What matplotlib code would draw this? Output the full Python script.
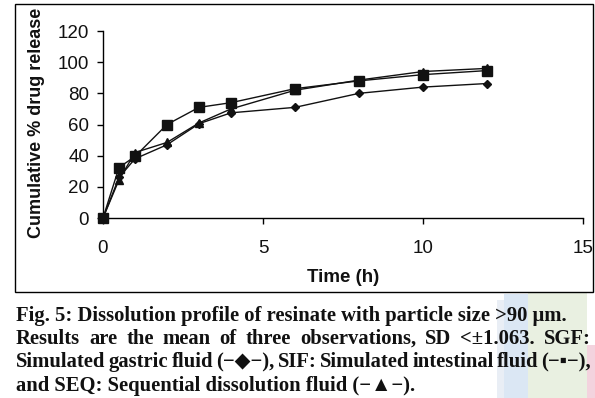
import matplotlib
matplotlib.use("Agg")
import matplotlib.pyplot as plt
from matplotlib.patches import Rectangle

# ---- data ----
time_h = [0, 0.5, 1, 2, 3, 4, 6, 8, 10, 12]
sgf = [0, 26, 38, 47, 60.5, 67.5, 71, 80, 84, 86.3]   # diamond
sif = [0, 32.4, 39.5, 60, 71, 74, 83, 88, 92, 94.6]   # square
seq = [0, 24.5, 42, 48.5, 61, 70, 82, 88.5, 94, 96]   # triangle

xticks = [0, 5, 10, 15]
yticks = [0, 20, 40, 60, 80, 100, 120]

caption_lines = [
    "Fig. 5: Dissolution profile of resinate with particle size >90 \u03bcm.",
    "Results are the mean of three observations, SD <\u00b11.063. SGF:",
    "Simulated gastric fluid (\u2212\u25c6\u2212), SIF: Simulated intestinal fluid (\u2212\u25aa\u2212),",
    "and SEQ: Sequential dissolution fluid (\u2212\u25b2\u2212).",
]

W, H = 595, 398
fig = plt.figure(figsize=(W / 100, H / 100), dpi=100)
fig.patch.set_facecolor("white")

def fx(px):
    return px / W

def fy(py):
    return 1 - py / H

# watermark-like faint patches in lower right
for (x0, y0, x1, y1, c) in [
    (497, 300, 504, 398, "#e9eef5"),
    (504, 294, 528, 398, "#dbe7f4"),
    (528, 293, 587, 398, "#e9f0e1"),
    (587, 345, 595, 398, "#f3d3de"),
]:
    fig.add_artist(Rectangle((fx(x0), fy(y1)), fx(x1) - fx(x0), fy(y0) - fy(y1),
                             transform=fig.transFigure, facecolor=c, edgecolor="none", zorder=0))

# frame around chart
fig.add_artist(Rectangle((fx(15), fy(292)), fx(593) - fx(15), fy(4) - fy(292),
                         transform=fig.transFigure, facecolor="white", edgecolor="black",
                         linewidth=1.0, zorder=1))

ax = fig.add_axes([fx(103), fy(218), fx(583) - fx(103), fy(31) - fy(218)])
ax.set_zorder(2)
ax.patch.set_alpha(0)

lc = "#111111"
ax.plot(time_h, sgf, color=lc, lw=1.0, marker="D", ms=4.5, mfc=lc, mec=lc, zorder=3, clip_on=False)
ax.plot(time_h, seq, color=lc, lw=1.0, marker="^", ms=5.5, mfc=lc, mec=lc, zorder=3, clip_on=False)
ax.plot(time_h, sif, color=lc, lw=1.0, marker="s", ms=6.5, mfc=lc, mec=lc, zorder=4, clip_on=False)

ax.set_xlim(0, 15)
ax.set_ylim(0, 120)
ax.set_xticks(xticks)
ax.set_yticks(yticks)
for s in ["top", "right"]:
    ax.spines[s].set_visible(False)
for s in ["left", "bottom"]:
    ax.spines[s].set_linewidth(1.0)
    ax.spines[s].set_color("black")

sans = "Liberation Sans"
ax.tick_params(axis="both", direction="out", length=4, width=1.0, colors="black",
               labelsize=13.5)
ax.tick_params(axis="x", pad=12)
ax.tick_params(axis="y", pad=6)
for lab in ax.get_xticklabels() + ax.get_yticklabels():
    lab.set_fontfamily(sans)
    lab.set_color("#111111")

fig.text(fx(36.7), fy(123), "Cumulative % drug release", rotation=90, ha="center",
         va="center", fontsize=13, fontweight="bold", family=sans, color="#111111")
fig.text(fx(343), fy(281.7), "Time (h)", ha="center", va="baseline", fontsize=13.5,
         fontweight="bold", family=sans, color="#111111")

# ---- caption (justified serif bold) ----
serif = ["Liberation Serif", "DejaVu Serif"]
renderer = fig.canvas.get_renderer()

def measure(s, size):
    t = fig.text(0, 0, s, fontsize=size, fontweight="bold", family=serif)
    w = t.get_window_extent(renderer=renderer).width
    t.remove()
    return w

base = 12.0
w1 = measure(caption_lines[0], base)
cap_size = base * (565 - 16) / w1

left_px, right_px = 16, 591
baselines = [320.7, 344.0, 367.3, 390.7]
justify = [False, True, True, False]

for line, yb, just in zip(caption_lines, baselines, justify):
    if not just:
        fig.text(fx(left_px), fy(yb), line, fontsize=cap_size, fontweight="bold",
                 family=serif, ha="left", va="baseline", color="#111111")
        continue
    words = line.split(" ")
    widths = [measure(wd, cap_size) for wd in words]
    gap = (right_px - left_px - sum(widths)) / (len(words) - 1)
    x = left_px
    for wd, wdt in zip(words, widths):
        fig.text(fx(x), fy(yb), wd, fontsize=cap_size, fontweight="bold",
                 family=serif, ha="left", va="baseline", color="#111111")
        x += wdt + gap

fig.savefig("out.png", dpi=100, facecolor="white")
